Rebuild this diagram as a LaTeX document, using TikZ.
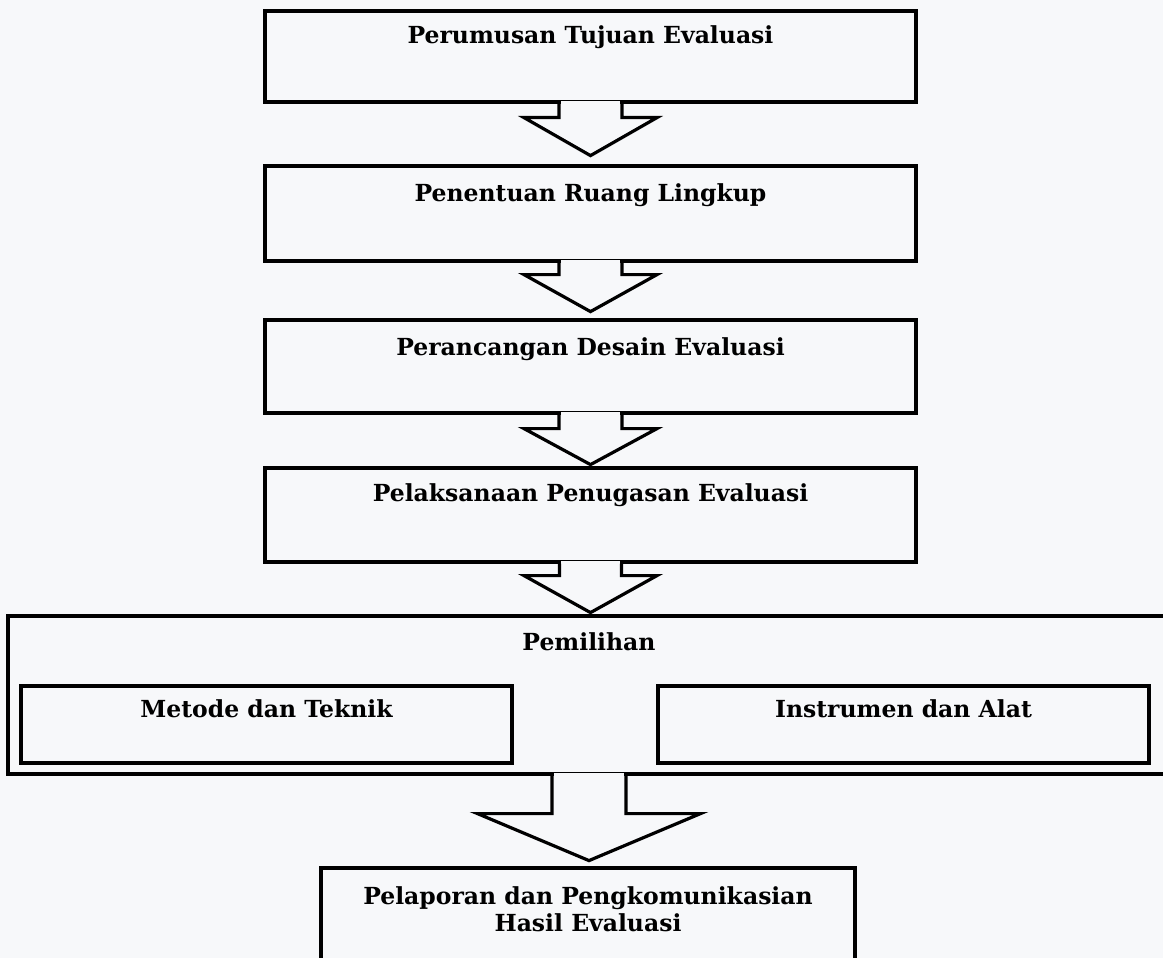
\documentclass[tikz,border=0pt]{standalone}
\usepackage{fontspec}
\setmainfont{DejaVu Serif}
\usetikzlibrary{calc}
\definecolor{kertas}{RGB}{247,248,250}

% panah blok: kotak asal, setengah batang, turun sayap, setengah sayap, turun ujung
\newcommand{\panah}[5]{%
  \fill[kertas] ([xshift=-#2pt+1.6pt,yshift=2.5pt]#1.south) rectangle ([xshift=#2pt-1.6pt,yshift=-#3pt]#1.south);
  \draw ([xshift=-#2pt]#1.south) -- ++(0,-#3) -- ++(#2-#4,0) -- ([yshift=-#5pt]#1.south)
    -- ++(#4,#5-#3) -- ++(#2-#4,0) -- ++(0,#3);}

\begin{document}
\begin{tikzpicture}[x=1pt,y=1pt,line width=3.2pt]
  \tikzset{kotak/.style = {draw, rectangle, inner sep=0pt},
           teks/.style = {font=\bfseries\fontsize{23.5}{27}\selectfont, align=center, anchor=base, inner sep=0pt}}
  \fill[kertas] (0,0) rectangle (1163,-958);
  \useasboundingbox (0,0) rectangle (1163,-958);

  \node[kotak, minimum width=651pt, minimum height=91pt] (tujuan) at (590.5,-56.5) {};
  \node[kotak, minimum width=651pt, minimum height=95pt] (ruang) at (590.5,-213.5) {};
  \node[kotak, minimum width=651pt, minimum height=93pt] (desain) at (590.5,-366.5) {};
  \node[kotak, minimum width=651pt, minimum height=94pt] (tugas) at (590.5,-515) {};
  \node[kotak, minimum width=1162pt, minimum height=158pt] (pilih) at (589,-695) {};
  \node[kotak, minimum width=491pt, minimum height=77pt] (metode) at (266.5,-724.5) {};
  \node[kotak, minimum width=491pt, minimum height=77pt] (alat) at (903.5,-724.5) {};
  \node[kotak, minimum width=534pt, minimum height=122pt] (lapor) at (588,-929) {};

  \node[teks] (ttujuan) at ([yshift=-34pt]tujuan.north) {Perumusan Tujuan Evaluasi};
  \node[teks] (truang) at ([yshift=-37pt]ruang.north) {Penentuan Ruang Lingkup};
  \node[teks] (tdesain) at ([yshift=-37pt]desain.north) {Perancangan Desain Evaluasi};
  \node[teks] (ttugas) at ([yshift=-35pt]tugas.north) {Pelaksanaan Penugasan Evaluasi};
  \node[teks] (tpilih) at ([yshift=-36pt]pilih.north) {Pemilihan};
  \node[teks] (tmetode) at ([yshift=-33pt]metode.north) {Metode dan Teknik};
  \node[teks] (talat) at ([yshift=-33pt]alat.north) {Instrumen dan Alat};
  \node[teks] (tlapor) at ([yshift=-65pt]lapor.north) {Pelaporan dan Pengkomunikasian\\Hasil Evaluasi};

  \panah{tujuan}{31.5}{14}{66.5}{52}
  \panah{ruang}{31.5}{12}{66.5}{49}
  \panah{desain}{31.5}{14}{66.5}{50}
  \panah{tugas}{31}{12}{66.5}{49}
  \panah{pilih}{37}{38}{111.5}{85}

\end{tikzpicture}
\end{document}
